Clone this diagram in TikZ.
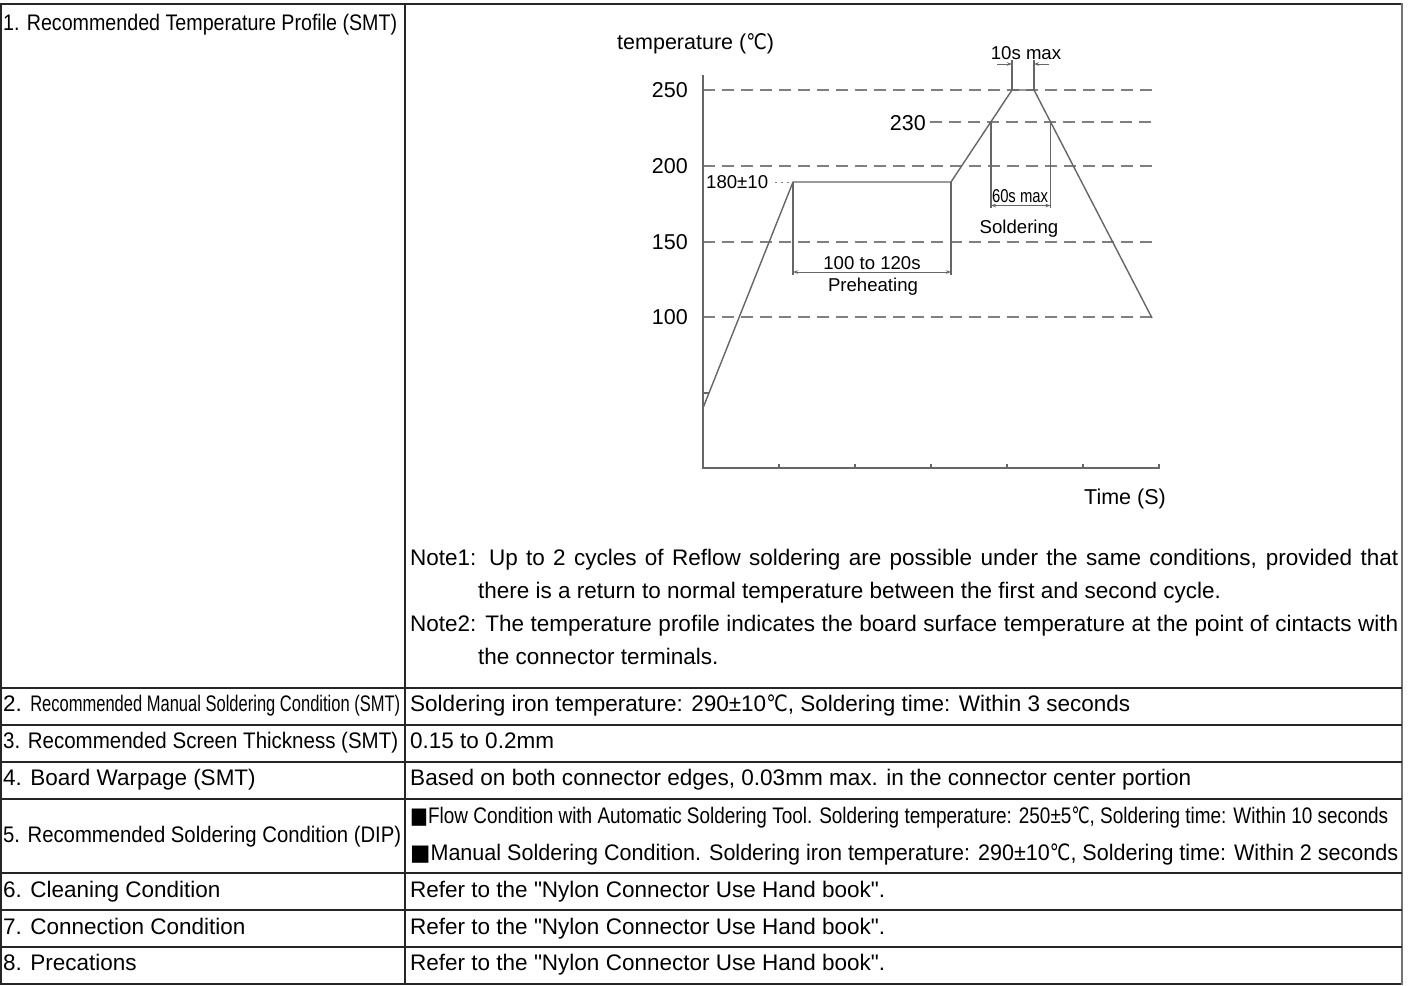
\documentclass[tikz,border=0pt]{standalone}
\usepackage{fontspec}
\setmainfont{Liberation Sans}[Ligatures=TeXOff]
\newfontfamily\djv{DejaVu Sans}
\usetikzlibrary{arrows.meta}
\newcommand{\dC}{\scalebox{0.85}[1]{\djv ℃}}
\newcommand{\sq}{{\djv ■}}
\newcommand{\fitto}[2]{\resizebox{#1}{\height}{#2}}
\begin{document}
\begin{tikzpicture}[x=1pt,y=-1pt,
  tline/.style={line width=1.2pt, draw=black!85},
  gline/.style={line width=1.4pt, draw=black!60},
  thin/.style={line width=1.1pt, draw=black!60},
  dline/.style={line width=1.3pt, draw=black!50, dash pattern=on 12pt off 7pt},
  ttext/.style={anchor=base west, inner sep=0pt, font=\fontsize{22.5}{27}\selectfont},
  alabel/.style={inner sep=0pt, font=\fontsize{21.5}{26}\selectfont},
  slabel/.style={inner sep=0pt, font=\fontsize{18.6}{22}\selectfont},
  dimarrow/.style={line width=1pt, draw=black!60, {Stealth[length=5pt,width=3.5pt]}-{Stealth[length=5pt,width=3.5pt]}},
  onearrow/.style={line width=1pt, draw=black!60, -{Stealth[length=5pt,width=3.5pt]}},
]
\useasboundingbox (0,0) rectangle (1413,985);
\fill[white] (0,0) rectangle (1413,985);

% ---------- table ----------
\draw[tline] (1,4) rectangle (1402,984);
\draw[line width=2.6pt, draw=black!55] (1402,3) -- (1402,985);
\draw[tline] (405,4) -- (405,984);
\foreach \y in {688,725,762,799,873,910,947}
  \draw[tline] (1,\y) -- (1402,\y);

% left column labels
\node[ttext] (l1) at (3,30) {\fitto{394pt}{1. Recommended Temperature Profile (SMT)}};
\node[ttext] (l2) at (3,711) {2. \fitto{370pt}{Recommended Manual Soldering Condition (SMT)}};
\node[ttext] (l3) at (3,748) {\fitto{395pt}{3. Recommended Screen Thickness (SMT)}};
\node[ttext] (l4) at (3,785) {4. Board Warpage (SMT)};
\node[ttext] (l5) at (3,842) {\fitto{398pt}{5. Recommended Soldering Condition (DIP)}};
\node[ttext] (l6) at (3,897) {6. Cleaning Condition};
\node[ttext] (l7) at (3,934) {7. Connection Condition};
\node[ttext] (l8) at (3,970) {8. Precations};

% right column texts
\node[ttext] (n1) at (410,565) {\makebox[988pt][s]{Note1: Up to 2 cycles of Reflow soldering are possible under the same conditions, provided that}};
\node[ttext] (n1b) at (478,598) {there is a return to normal temperature between the first and second cycle.};
\node[ttext] (n2) at (410,631) {\makebox[988pt][s]{Note2: The temperature profile indicates the board surface temperature at the point of cintacts with}};
\node[ttext] (n2b) at (478,664) {the connector terminals.};

\node[ttext] (r2) at (410,711) {\fitto{720pt}{Soldering iron temperature: 290±10\dC, Soldering time: Within 3 seconds}};
\node[ttext] (r3) at (410,748) {0.15 to 0.2mm};
\node[ttext] (r4) at (410,785) {\fitto{781pt}{Based on both connector edges, 0.03mm max. in the connector center portion}};
\node[ttext] (r5a) at (410,823) {\fitto{978pt}{\sq Flow Condition with Automatic Soldering Tool. Soldering temperature: 250±5\dC, Soldering time: Within 10 seconds}};
\node[ttext] (r5b) at (410,860) {\fitto{988pt}{\sq Manual Soldering Condition. Soldering iron temperature: 290±10\dC, Soldering time: Within 2 seconds}};
\node[ttext] (r6) at (410,897) {\fitto{475pt}{Refer to the "Nylon Connector Use Hand book".}};
\node[ttext] (r7) at (410,934) {\fitto{475pt}{Refer to the "Nylon Connector Use Hand book".}};
\node[ttext] (r8) at (410,970) {\fitto{475pt}{Refer to the "Nylon Connector Use Hand book".}};

% ---------- graph ----------
\coordinate (yTop) at (703,75);
\coordinate (O) at (703,468);
\coordinate (xEnd) at (1160,468);
\foreach \y in {90,166,242,317}
  \draw[dline] (703,\y) -- (1152,\y);
\draw[dline] (930,122) -- (1152,122);
\draw[line width=1pt, draw=black!50, dash pattern=on 2pt off 4pt] (775,182) -- (792,182);

\draw[gline] (yTop) -- (O) -- (xEnd);
\foreach \x in {779,855,931,1007,1083,1159}
  \draw[thin] (\x,468) -- (\x,464);
\draw[thin] (703,393) -- (709,393);

\coordinate (c0) at (703,408);
\coordinate (c1) at (793,182);
\coordinate (c2) at (951,182);
\coordinate (c3) at (1012,90);
\coordinate (c4) at (1034,90);
\coordinate (c5) at (1152,318);
\draw[gline, line join=miter] (c0) -- (c1) -- (c2) -- (c3) -- (c4) -- (c5);

% preheating dimension
\coordinate (ph1) at (793,275);
\coordinate (ph2) at (951,275);
\draw[thin] (c1) -- (ph1);
\draw[thin] (c2) -- (ph2);
\coordinate (pa1) at (793,272);
\coordinate (pa2) at (951,272);
\draw[dimarrow] (pa1) -- (pa2);

% soldering dimension
\coordinate (s1t) at (991,122);
\coordinate (s1b) at (991,208);
\coordinate (s2t) at (1050.5,122);
\coordinate (s2b) at (1050.5,208);
\draw[thin] (s1t) -- (s1b);
\draw[thin] (s2t) -- (s2b);
\coordinate (sa1) at (991,205.5);
\coordinate (sa2) at (1050.5,205.5);
\draw[dimarrow] (sa1) -- (sa2);

% peak dimension
\coordinate (pk1) at (1012,60);
\coordinate (pk2) at (1034,60);
\draw[thin] (c3) -- (pk1);
\draw[thin] (c4) -- (pk2);
\coordinate (ka1) at (997,64);
\coordinate (kb1) at (1012,64);
\coordinate (ka2) at (1049,64);
\coordinate (kb2) at (1034,64);
\draw[onearrow] (ka1) -- (kb1);
\draw[onearrow] (ka2) -- (kb2);

% graph labels
\node[alabel, anchor=base west] (tlab) at (617,49) {temperature (\dC)};
\node[alabel, anchor=east] (y250) at (688,90) {250};
\node[alabel, anchor=east] (y200) at (688,166) {200};
\node[alabel, anchor=east] (y150) at (688,242) {150};
\node[alabel, anchor=east] (y100) at (688,317) {100};
\node[alabel, anchor=east] (y230) at (926,123) {230};
\node[slabel, anchor=west] (y180) at (706,182) {180±10};
\node[slabel, anchor=base] (l10s) at (1026,59) {10s max};
\node[slabel, anchor=base] (l60s) at (1020,202.5) {\fitto{56pt}{60s max}};
\node[slabel, anchor=base] (lsold) at (1019,233) {Soldering};
\node[slabel, anchor=base] (l100) at (872,269) {100 to 120s};
\node[slabel, anchor=base] (lpre) at (873,291.5) {Preheating};
\node[alabel, anchor=base east] (ltime) at (1166,504) {Time (S)};
\end{tikzpicture}
\end{document}
